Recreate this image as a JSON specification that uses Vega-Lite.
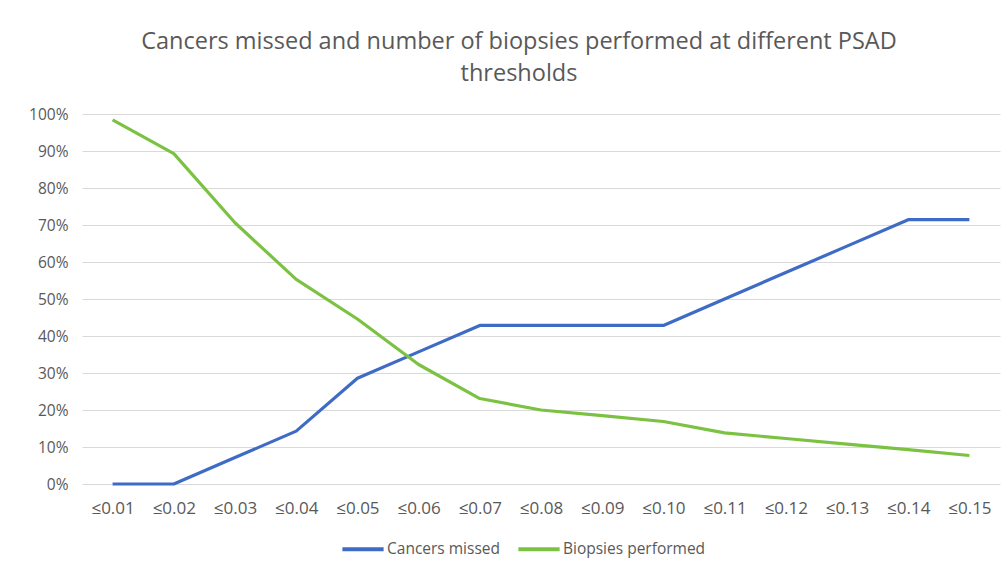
{
  "$schema": "https://vega.github.io/schema/vega-lite/v6.json",
  "width": 918,
  "height": 370,
  "autosize": {"type": "none"},
  "padding": {"left": 82, "top": 114, "right": 8, "bottom": 86},
  "background": "white",
  "title": {
    "text": ["Cancers missed and number of biopsies performed at different PSAD", "thresholds"],
    "font": "Open Sans",
    "fontSize": 23.5,
    "fontWeight": "normal",
    "color": "#595959",
    "anchor": "middle",
    "dx": -22,
    "offset": 22,
    "lineHeight": 32
  },
  "data": {
    "values": [
      {"t": "≤0.01", "series": "Cancers missed", "v": 0},
      {"t": "≤0.02", "series": "Cancers missed", "v": 0},
      {"t": "≤0.03", "series": "Cancers missed", "v": 0.0714},
      {"t": "≤0.04", "series": "Cancers missed", "v": 0.1429},
      {"t": "≤0.05", "series": "Cancers missed", "v": 0.2857},
      {"t": "≤0.06", "series": "Cancers missed", "v": 0.3571},
      {"t": "≤0.07", "series": "Cancers missed", "v": 0.4286},
      {"t": "≤0.08", "series": "Cancers missed", "v": 0.4286},
      {"t": "≤0.09", "series": "Cancers missed", "v": 0.4286},
      {"t": "≤0.10", "series": "Cancers missed", "v": 0.4286},
      {"t": "≤0.11", "series": "Cancers missed", "v": 0.5},
      {"t": "≤0.12", "series": "Cancers missed", "v": 0.5714},
      {"t": "≤0.13", "series": "Cancers missed", "v": 0.6429},
      {"t": "≤0.14", "series": "Cancers missed", "v": 0.7143},
      {"t": "≤0.15", "series": "Cancers missed", "v": 0.7143},
      {"t": "≤0.01", "series": "Biopsies performed", "v": 0.984},
      {"t": "≤0.02", "series": "Biopsies performed", "v": 0.893},
      {"t": "≤0.03", "series": "Biopsies performed", "v": 0.706},
      {"t": "≤0.04", "series": "Biopsies performed", "v": 0.553},
      {"t": "≤0.05", "series": "Biopsies performed", "v": 0.446},
      {"t": "≤0.06", "series": "Biopsies performed", "v": 0.323},
      {"t": "≤0.07", "series": "Biopsies performed", "v": 0.231},
      {"t": "≤0.08", "series": "Biopsies performed", "v": 0.2},
      {"t": "≤0.09", "series": "Biopsies performed", "v": 0.185},
      {"t": "≤0.10", "series": "Biopsies performed", "v": 0.169},
      {"t": "≤0.11", "series": "Biopsies performed", "v": 0.138},
      {"t": "≤0.12", "series": "Biopsies performed", "v": 0.123},
      {"t": "≤0.13", "series": "Biopsies performed", "v": 0.108},
      {"t": "≤0.14", "series": "Biopsies performed", "v": 0.093},
      {"t": "≤0.15", "series": "Biopsies performed", "v": 0.077}
    ]
  },
  "mark": {"type": "line", "strokeWidth": 3.2, "interpolate": "linear", "strokeJoin": "round"},
  "encoding": {
    "x": {
      "field": "t",
      "type": "ordinal",
      "sort": null,
      "scale": {"paddingInner": 0, "paddingOuter": 0.5},
      "axis": {
        "title": null,
        "labelAngle": 0,
        "labelFont": "Open Sans",
        "labelFontSize": 17,
        "labelColor": "#595959",
        "labelPadding": 16,
        "ticks": false,
        "domain": false,
        "grid": false
      }
    },
    "y": {
      "field": "v",
      "type": "quantitative",
      "scale": {"domain": [0, 1], "nice": false},
      "axis": {
        "title": null,
        "format": ".0%",
        "values": [0, 0.1, 0.2, 0.3, 0.4, 0.5, 0.6, 0.7, 0.8, 0.9, 1],
        "labelFont": "Open Sans",
        "labelFontSize": 15.5,
        "labelColor": "#595959",
        "labelPadding": 14,
        "ticks": false,
        "domain": false,
        "gridColor": "#d9d9d9",
        "gridWidth": 1.2
      }
    },
    "color": {
      "field": "series",
      "type": "nominal",
      "scale": {"domain": ["Cancers missed", "Biopsies performed"], "range": ["#3E6BC5", "#7CC242"]},
      "legend": {
        "title": null,
        "orient": "none",
        "legendX": 258,
        "legendY": 412,
        "direction": "horizontal",
        "symbolType": "stroke",
        "symbolSize": 1700,
        "symbolStrokeWidth": 4,
        "labelFont": "Open Sans",
        "labelFontSize": 15.5,
        "labelColor": "#595959",
        "labelOffset": 1,
        "columnPadding": 10
      }
    }
  },
  "config": {"view": {"stroke": null}}
}
